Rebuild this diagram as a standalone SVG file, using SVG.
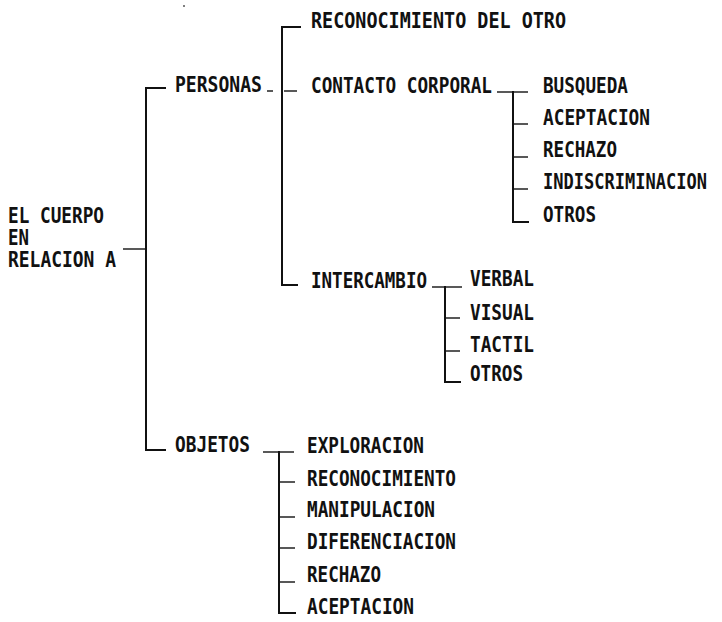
<svg xmlns="http://www.w3.org/2000/svg" width="722" height="622" viewBox="0 0 722 622">
<style>
  text { font-family: "DejaVu Sans Mono", "Liberation Mono", monospace; font-size: 21px; font-weight: bold; fill: #111; }
  .br { stroke: #111; stroke-width: 2; fill: none; stroke-linecap: square; stroke-linejoin: miter; }
  .tk { stroke: #222; stroke-width: 1.5; fill: none; }
</style>
<rect width="722" height="622" fill="#fff"/>
<circle cx="184" cy="6" r="1" fill="#555"/>

<g id="connectors">
  <!-- root -->
  <path class="tk" d="M123 249 H146"/>
  <path class="br" d="M165 88 H146 V450 H165"/>
  <!-- personas -->
  <path class="tk" d="M267 91 H273"/>
  <path class="br" d="M300 27 H282 V285 H297"/>
  <path class="tk" d="M284 91 H297"/>
  <!-- contacto corporal -->
  <path class="tk" d="M497 92 H528"/>
  <path class="br" d="M513 92 V222 H528"/>
  <path class="tk" d="M514 124 H528 M514 157 H528 M514 189 H528"/>
  <!-- intercambio -->
  <path class="tk" d="M432 287 H462"/>
  <path class="br" d="M445 287 V382 H460"/>
  <path class="tk" d="M446 318 H460 M446 351 H460"/>
  <!-- objetos -->
  <path class="tk" d="M263 452 H294"/>
  <path class="br" d="M279 452 V613 H295"/>
  <path class="tk" d="M280 482 H295 M280 517 H295 M280 548 H295 M280 582 H295"/>
</g>

<g id="root">
  <text x="8" y="223" textLength="96" lengthAdjust="spacingAndGlyphs">EL CUERPO</text>
  <text x="8" y="245" textLength="21" lengthAdjust="spacingAndGlyphs">EN</text>
  <text x="8" y="267" textLength="108" lengthAdjust="spacingAndGlyphs">RELACION A</text>
</g>
<g id="personas"><text x="175" y="92" textLength="87" lengthAdjust="spacingAndGlyphs">PERSONAS</text></g>
<g id="objetos"><text x="175" y="452" textLength="75" lengthAdjust="spacingAndGlyphs">OBJETOS</text></g>

<g id="reconocimiento-otro"><text x="311" y="28" textLength="255" lengthAdjust="spacingAndGlyphs">RECONOCIMIENTO DEL OTRO</text></g>
<g id="contacto"><text x="311" y="93" textLength="181" lengthAdjust="spacingAndGlyphs">CONTACTO CORPORAL</text></g>
<g id="intercambio"><text x="311" y="288" textLength="116" lengthAdjust="spacingAndGlyphs">INTERCAMBIO</text></g>

<g id="busqueda"><text x="543" y="93" textLength="85" lengthAdjust="spacingAndGlyphs">BUSQUEDA</text></g>
<g id="aceptacion-1"><text x="543" y="125" textLength="107" lengthAdjust="spacingAndGlyphs">ACEPTACION</text></g>
<g id="rechazo-1"><text x="543" y="157" textLength="74" lengthAdjust="spacingAndGlyphs">RECHAZO</text></g>
<g id="indiscriminacion" transform="translate(543,189) scale(1,1.235)"><text x="0" y="0" style="font-size:17px" textLength="164" lengthAdjust="spacingAndGlyphs">INDISCRIMINACION</text></g>
<g id="otros-1"><text x="543" y="222" textLength="53" lengthAdjust="spacingAndGlyphs">OTROS</text></g>

<g id="verbal"><text x="470" y="286" textLength="64" lengthAdjust="spacingAndGlyphs">VERBAL</text></g>
<g id="visual"><text x="470" y="320" textLength="64" lengthAdjust="spacingAndGlyphs">VISUAL</text></g>
<g id="tactil"><text x="470" y="352" textLength="64" lengthAdjust="spacingAndGlyphs">TACTIL</text></g>
<g id="otros-2"><text x="470" y="381" textLength="53" lengthAdjust="spacingAndGlyphs">OTROS</text></g>

<g id="exploracion"><text x="307" y="453" textLength="117" lengthAdjust="spacingAndGlyphs">EXPLORACION</text></g>
<g id="reconocimiento"><text x="307" y="486" textLength="149" lengthAdjust="spacingAndGlyphs">RECONOCIMIENTO</text></g>
<g id="manipulacion"><text x="307" y="517" textLength="128" lengthAdjust="spacingAndGlyphs">MANIPULACION</text></g>
<g id="diferenciacion"><text x="307" y="549" textLength="149" lengthAdjust="spacingAndGlyphs">DIFERENCIACION</text></g>
<g id="rechazo-2"><text x="307" y="582" textLength="74" lengthAdjust="spacingAndGlyphs">RECHAZO</text></g>
<g id="aceptacion-2"><text x="307" y="614" textLength="107" lengthAdjust="spacingAndGlyphs">ACEPTACION</text></g>
</svg>
